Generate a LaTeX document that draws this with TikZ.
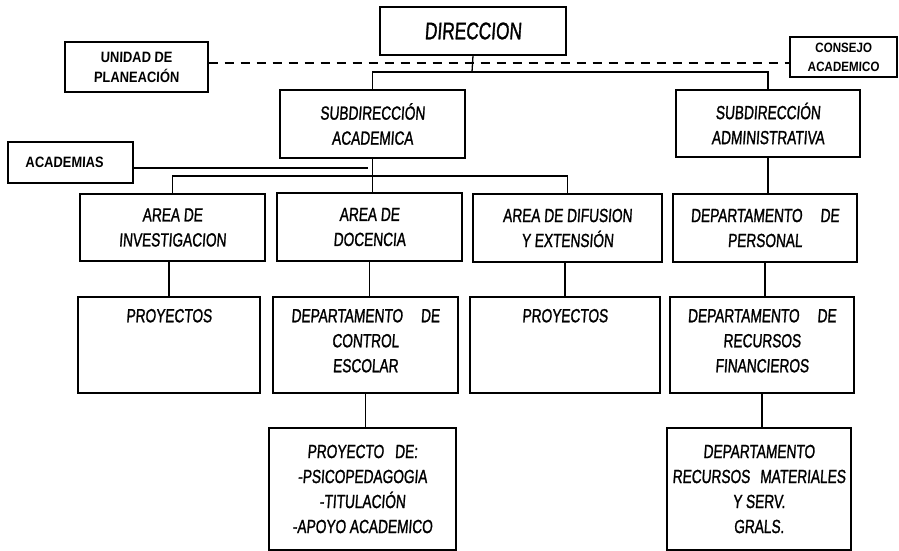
\documentclass[tikz,border=0pt]{standalone}
\usepackage{fontspec}
\setmainfont{Liberation Sans}[FakeStretch=0.72,FakeSlant=0.07,FakeBold=1.2]
\newfontfamily\boldfam{Liberation Sans}[FakeStretch=0.86,FakeSlant=0.04]
\newcommand\tbx[2]{\parbox[c][96pt][t]{#1}{\centering\vspace*{12pt}#2\par}}
\tikzset{
  orgbox/.style={draw, line width=1.3pt, inner sep=0pt, align=center, font=\fontsize{19}{25}\selectfont},
  boldbox/.style={draw, line width=1.3pt, inner sep=0pt, align=center, font=\boldfam\bfseries\fontsize{15}{20}\selectfont},
  lnk/.style={line width=1.3pt},
  thicklnk/.style={line width=2.2pt},
  dsh/.style={line width=1.4pt, dash pattern=on 9pt off 7pt}
}
\begin{document}
\begin{tikzpicture}[x=1pt,y=-1pt]
\useasboundingbox (0,0) rectangle (899,551);
% top
\node[orgbox, minimum width=186pt, minimum height=48pt, font=\fontsize{24}{28}\selectfont] (dir) at (473,31) {DIRECCION};
\node[boldbox, minimum width=143pt, minimum height=50pt] (unidad) at (136.5,67) {UNIDAD DE\\PLANEACIÓN};
\node[boldbox, minimum width=107pt, minimum height=40pt, font=\boldfam\bfseries\fontsize{13.5}{19}\selectfont] (consejo) at (843.5,57) {CONSEJO\\ACADEMICO};
% level 2
\node[orgbox, minimum width=185pt, minimum height=68pt] (subacad) at (372.5,124) {SUBDIRECCIÓN\\ACADEMICA};
\node[orgbox, minimum width=184pt, minimum height=67pt] (subadm) at (768,123.5) {SUBDIRECCIÓN\\ADMINISTRATIVA};
\node[boldbox, minimum width=125pt, minimum height=41pt] (academias) at (70.5,162.5) {\hspace*{-12pt}ACADEMIAS};
% level 3
\node[orgbox, minimum width=185pt, minimum height=67pt] (inv) at (172.5,227.5) {AREA DE\\INVESTIGACION};
\node[orgbox, minimum width=185pt, minimum height=68pt] (doc) at (369.5,227) {AREA DE\\DOCENCIA};
\node[orgbox, minimum width=189pt, minimum height=68pt] (dif) at (567.5,228) {AREA DE DIFUSION\\Y EXTENSIÓN};
\node[orgbox, minimum width=184pt, minimum height=68pt] (pers) at (765,228) {DEPARTAMENTO\hspace{18pt}DE\\PERSONAL};
% level 4
\node[orgbox] (proy1) at (169,345) {\tbx{182pt}{PROYECTOS}};
\node[orgbox] (ctrl) at (365.5,345) {\tbx{185pt}{DEPARTAMENTO\hspace{18pt}DE\\CONTROL\\ESCOLAR}};
\node[orgbox] (proy2) at (565,345) {\tbx{190pt}{PROYECTOS}};
\node[orgbox] (fin) at (762,345) {\tbx{184pt}{DEPARTAMENTO\hspace{18pt}DE\\RECURSOS\\FINANCIEROS}};
% level 5
\node[orgbox, minimum width=187pt, minimum height=122pt] (psico) at (362.5,489) {PROYECTO\hspace{11pt}DE:\\-PSICOPEDAGOGIA\\-TITULACIÓN\\-APOYO ACADEMICO};
\node[orgbox, minimum width=184pt, minimum height=122pt] (mat) at (759,489) {DEPARTAMENTO\\RECURSOS\hspace{10pt}MATERIALES\\Y SERV.\\GRALS.};
% junctions
\coordinate (j1) at (472,72);
\coordinate (dl) at (472,63);
\coordinate (j2) at (372.5,176);
\coordinate (j3) at (368,168);
% connectors
\draw[dsh] (unidad.east |- dl) -- (consejo.west |- dl);
\draw[lnk] (dir.south) -- (j1);
\draw[lnk] (subacad.north) |- (j1) -| (subadm.north);
\draw[lnk] (subacad.south) -- (subacad.south |- doc.north);
\draw[lnk] (inv.north) |- (j2) -| (dif.north);
\draw[thicklnk] (academias.east |- j3) -- (j3);
\draw[lnk] (subadm.south) -- (subadm.south |- pers.north);
\draw[lnk] (proy1.north |- inv.south) -- (proy1.north);
\draw[lnk] (doc.south) -- (doc.south |- ctrl.north);
\draw[lnk] (proy2.north |- dif.south) -- (proy2.north);
\draw[lnk] (pers.south) -- (pers.south |- fin.north);
\draw[lnk] (ctrl.south) -- (ctrl.south |- psico.north);
\draw[lnk] (fin.south) -- (fin.south |- mat.north);
\end{tikzpicture}
\end{document}
